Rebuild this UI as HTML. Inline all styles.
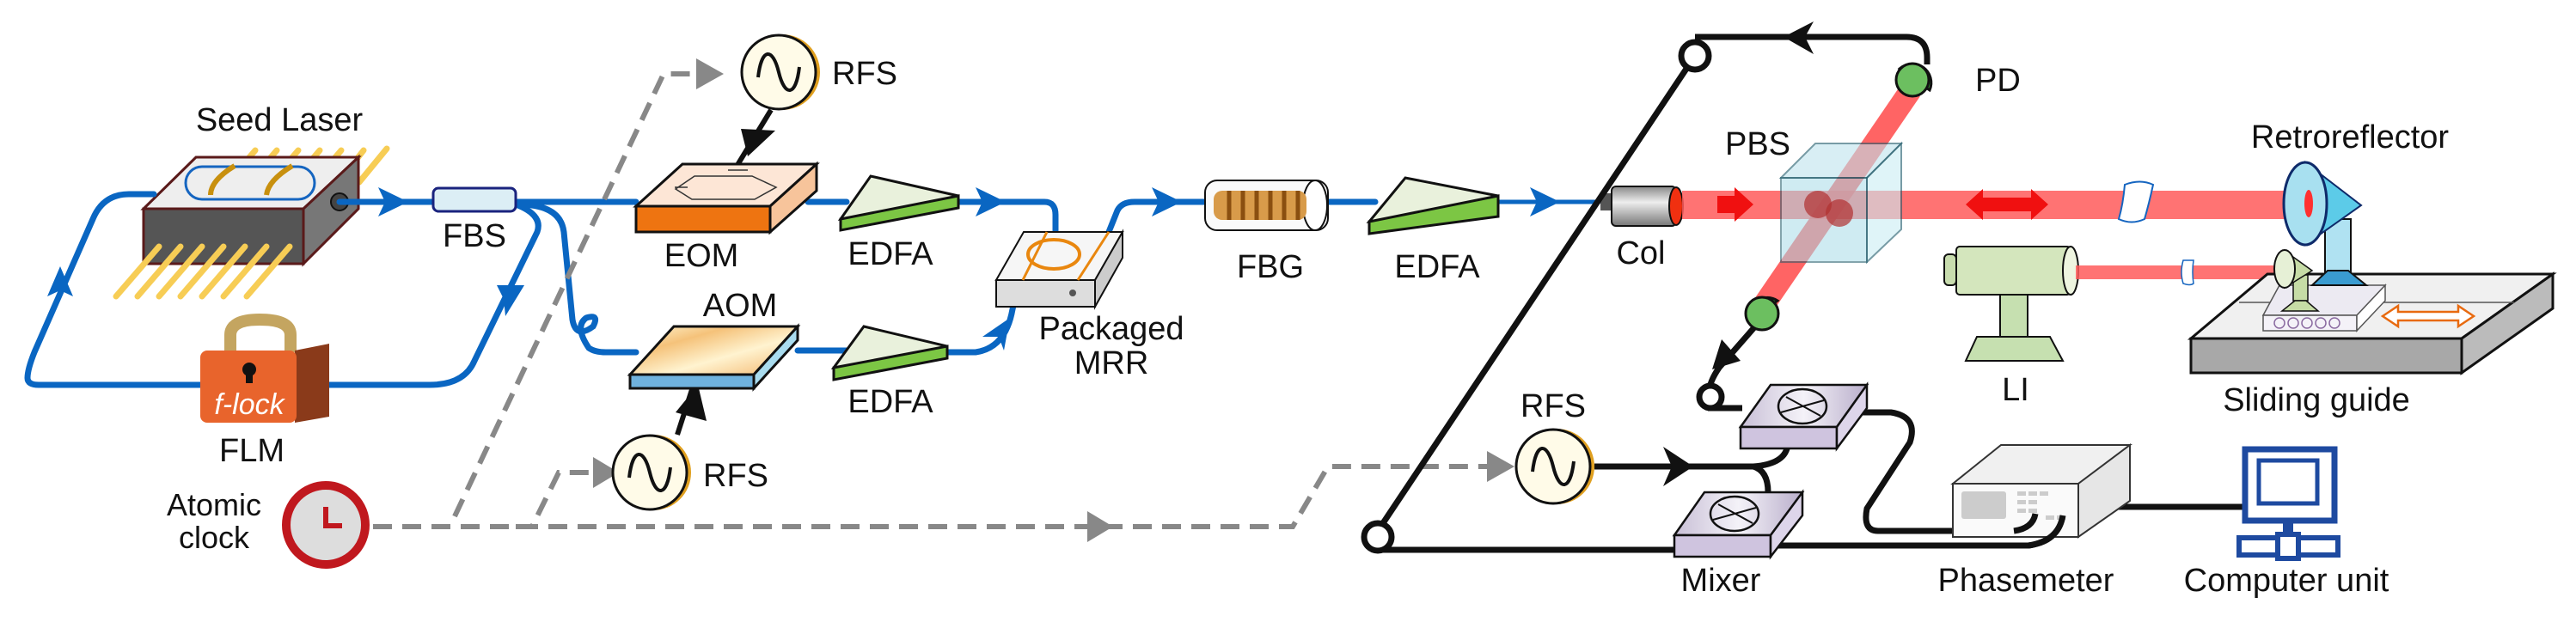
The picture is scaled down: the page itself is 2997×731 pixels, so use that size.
<!DOCTYPE html>
<html><head><meta charset="utf-8"><style>
html,body{margin:0;padding:0;background:#fff;}
svg{display:block;}
text{font-family:"Liberation Sans",Arial,sans-serif;fill:#111;}
</style></head><body>
<svg width="2997" height="731" viewBox="0 0 2997 731" xmlns="http://www.w3.org/2000/svg">
<defs>
<linearGradient id="metal" x1="0" y1="0" x2="0" y2="1"><stop offset="0" stop-color="#888"/><stop offset=".4" stop-color="#eee"/><stop offset="1" stop-color="#777"/></linearGradient>
<linearGradient id="aom" x1="0" y1="0" x2="1" y2="1"><stop offset="0" stop-color="#fff8d8"/><stop offset=".3" stop-color="#f5c27a"/><stop offset=".6" stop-color="#fff3d0"/><stop offset="1" stop-color="#f3b56a"/></linearGradient>
<linearGradient id="mix" x1="0" y1="0" x2="1" y2="0"><stop offset="0" stop-color="#c8bfd6"/><stop offset=".5" stop-color="#f4f2f8"/><stop offset="1" stop-color="#b9aecb"/></linearGradient>
</defs>

<g stroke="#f7cd55" stroke-width="7" stroke-linecap="round">
<line x1="297" y1="175" x2="280" y2="195"/><line x1="322" y1="175" x2="305" y2="195"/><line x1="347" y1="175" x2="330" y2="195"/><line x1="372" y1="175" x2="355" y2="195"/><line x1="397" y1="175" x2="380" y2="195"/><line x1="423" y1="175" x2="380" y2="230"/><line x1="450" y1="173" x2="418" y2="212"/>
</g>
<polygon points="167,243 228,183 417,183 353,243" fill="#eee" stroke="#5a1a1a" stroke-width="3"/>
<rect x="167" y="243" width="186" height="64" fill="#555" stroke="#5a1a1a" stroke-width="3"/>
<polygon points="353,243 417,183 417,243 353,307" fill="#777" stroke="#5a1a1a" stroke-width="3"/>
<rect x="216" y="194" width="150" height="38" rx="19" fill="none" stroke="#1565c0" stroke-width="3"/>
<path d="M273,193 Q245,210 245,227" stroke="#c8900e" stroke-width="6" fill="none"/>
<path d="M340,193 Q312,210 310,227" stroke="#c8900e" stroke-width="6" fill="none"/>
<circle cx="395" cy="235" r="10" fill="#444" stroke="#111" stroke-width="2"/>
<g stroke="#f7cd55" stroke-width="7" stroke-linecap="round">
<line x1="185" y1="287" x2="135" y2="345"/><line x1="210" y1="287" x2="160" y2="345"/><line x1="235" y1="287" x2="185" y2="345"/><line x1="260" y1="287" x2="210" y2="345"/><line x1="285" y1="287" x2="235" y2="345"/><line x1="310" y1="287" x2="260" y2="345"/><line x1="337" y1="287" x2="287" y2="345"/>
</g>
<text x="325" y="152" font-size="38" text-anchor="middle">Seed Laser</text>

<g stroke="#0a66c2" stroke-width="7" fill="none" stroke-linecap="round">
<path d="M395,235 L504,235"/>
<path d="M179,226 L150,226 Q120,226 108,255 L40,410 Q32,430 32,440 Q32,448 45,448 L233,448"/>
<path d="M380,448 L500,448 Q540,448 552,420 L625,270 Q632,250 600,238"/>
<path d="M600,235 L740,235"/>
<path d="M603,238 Q652,238 656,270 L666,372 Q670,395 690,380 Q698,365 682,370 Q668,380 685,405 Q692,410 705,410 L740,410"/>
<path d="M940,235 L985,235"/>
<path d="M928,408 L985,408"/>
<path d="M1115,235 L1215,235 Q1228,235 1228,250 L1228,270"/>
<path d="M1102,410 L1135,410 Q1170,405 1178,360 L1182,343"/>
<path d="M1290,270 L1300,245 Q1305,235 1320,235 L1402,235"/>
<path d="M1545,235 L1600,235"/>
<path d="M1743,235 L1860,235" stroke-width="5"/>
</g>
<g fill="#0a66c2">
<polygon points="440,218 475,235 440,252 448,235"/>
<polygon points="55,345 70,310 85,345 70,338"/>
<polygon points="578,332 610,332 588,368 586,348"/>
<polygon points="1135,218 1170,235 1135,252 1143,235"/>
<polygon points="1340,218 1375,235 1340,252 1348,235"/>
<polygon points="1780,218 1815,235 1780,252 1788,235"/>
<polygon points="1143,392 1175,370 1168,408 1162,392"/>
</g>
<rect x="504" y="219" width="96" height="27" rx="6" fill="#dceef5" stroke="#1a237e" stroke-width="3"/>
<text x="552" y="287" font-size="38" text-anchor="middle">FBS</text>

<path d="M268,410 L268,390 Q268,372 302,372 Q338,372 338,390 L338,410" stroke="#c4a560" stroke-width="14" fill="none"/>
<polygon points="343,408 383,400 383,485 343,492" fill="#8a3a1a"/>
<rect x="233" y="408" width="112" height="84" rx="8" fill="#e8642c"/>
<circle cx="290" cy="430" r="8" fill="#111"/><rect x="286" y="430" width="8" height="16" fill="#111"/>
<text x="290" y="482" font-size="34" text-anchor="middle" style="fill:#fff" font-style="italic">f-lock</text>
<text x="293" y="537" font-size="38" text-anchor="middle">FLM</text>

<text x="249" y="600" font-size="36" text-anchor="middle">Atomic</text>
<text x="249" y="638" font-size="36" text-anchor="middle">clock</text>
<circle cx="379" cy="611" r="46" fill="#ddd" stroke="#c0181e" stroke-width="10"/>
<path d="M379,590 L379,612 L398,612" stroke="#c0181e" stroke-width="6" fill="none"/>

<g stroke="#888" stroke-width="6" fill="none" stroke-dasharray="22,12">
<path d="M434,613 L1504,613 L1545,543 L1740,543"/>
<path d="M600,613 L619,613 L650,550 L708,550"/>
<path d="M529,601 L772,86 L835,86"/>
</g>
<g fill="#888">
<polygon points="1265,595 1295,613 1265,631"/>
<polygon points="1730,525 1762,543 1730,561"/>
<polygon points="690,532 720,550 690,568"/>
<polygon points="810,68 842,86 810,104"/>
</g>

<g stroke="#111" stroke-width="3">
<circle cx="910" cy="84" r="44" fill="#e0a020" stroke="none"/><circle cx="906" cy="84" r="43" fill="#fffbe8"/>
<circle cx="760" cy="550" r="44" fill="#e0a020" stroke="none"/><circle cx="756" cy="550" r="43" fill="#fffbe8"/>
<circle cx="1811" cy="543" r="44" fill="#e0a020" stroke="none"/><circle cx="1807" cy="543" r="43" fill="#fffbe8"/>
</g>
<g stroke="#111" stroke-width="4" fill="none">
<path d="M882,90 C886,55 899,55 906,84 C913,113 926,113 930,78"/>
<path d="M732,556 C736,521 749,521 756,550 C763,579 776,579 780,544"/>
<path d="M1783,549 C1787,514 1800,514 1807,543 C1814,572 1827,572 1831,537"/>
</g>
<text x="968" y="98" font-size="38">RFS</text>
<text x="818" y="566" font-size="38">RFS</text>
<text x="1807" y="485" font-size="38" text-anchor="middle">RFS</text>
<g stroke="#111" stroke-width="6"><line x1="897" y1="128" x2="858" y2="192"/><line x1="788" y1="506" x2="810" y2="438"/></g>
<polygon points="862,150 902,152 870,182" fill="#111"/>
<polygon points="786,480 812,448 822,490" fill="#111"/>

<polygon points="740,240 794,191 950,191 896,240" fill="#fde6d6" stroke="#111" stroke-width="3"/>
<rect x="740" y="240" width="156" height="30" fill="#ee7411" stroke="#111" stroke-width="3"/>
<polygon points="896,240 950,191 950,222 896,270" fill="#f7c49b" stroke="#111" stroke-width="3"/>
<path d="M786,220 L808,205 L875,205 L903,218 L878,232 L805,232z M847,198 L870,198 M785,218 L800,218" stroke="#333" stroke-width="1.5" fill="none"/>
<text x="816" y="310" font-size="38" text-anchor="middle">EOM</text>
<polygon points="733,436 784,380 928,380 877,436" fill="url(#aom)" stroke="#111" stroke-width="3"/>
<rect x="733" y="436" width="144" height="16" fill="#6fb2de" stroke="#111" stroke-width="3"/>
<polygon points="877,436 928,380 928,396 877,452" fill="#a9dcef" stroke="#111" stroke-width="3"/>
<text x="861" y="368" font-size="38" text-anchor="middle">AOM</text>

<g stroke="#111" stroke-width="3">
<polygon points="978,255 1013,205 1115,228 1115,240" fill="#e9f1dc"/>
<polygon points="978,255 1115,228 1115,242 978,268" fill="#7cc644"/>
<polygon points="970,428 1005,380 1102,403 1102,415" fill="#e9f1dc"/>
<polygon points="970,428 1102,403 1102,417 970,442" fill="#7cc644"/>
<polygon points="1593,258 1635,207 1743,228 1743,240" fill="#e9f1dc"/>
<polygon points="1593,258 1743,228 1743,252 1593,272" fill="#7cc644"/>
</g>
<text x="1036" y="308" font-size="38" text-anchor="middle">EDFA</text>
<text x="1036" y="480" font-size="38" text-anchor="middle">EDFA</text>
<text x="1672" y="323" font-size="38" text-anchor="middle">EDFA</text>

<polygon points="1159,326 1191,270 1306,270 1274,326" fill="#f6f6f6" stroke="#111" stroke-width="2"/>
<rect x="1159" y="326" width="115" height="31" fill="#ddd" stroke="#111" stroke-width="2"/>
<polygon points="1274,326 1306,270 1306,300 1274,357" fill="#ccc" stroke="#111" stroke-width="2"/>
<ellipse cx="1226" cy="296" rx="30" ry="17" fill="none" stroke="#e9870f" stroke-width="4"/>
<line x1="1218" y1="270" x2="1190" y2="326" stroke="#e9870f" stroke-width="3"/>
<line x1="1290" y1="270" x2="1254" y2="326" stroke="#e9870f" stroke-width="3"/>
<circle cx="1248" cy="341" r="4" fill="#555"/>
<text x="1293" y="395" font-size="38" text-anchor="middle">Packaged</text>
<text x="1293" y="435" font-size="38" text-anchor="middle">MRR</text>

<rect x="1402" y="210" width="143" height="58" rx="14" fill="#fafafa" stroke="#111" stroke-width="2"/>
<ellipse cx="1530" cy="239" rx="14" ry="29" fill="#fff" stroke="#111" stroke-width="2"/>
<rect x="1412" y="222" width="108" height="34" rx="10" fill="#d89b4a"/>
<g stroke="#8a4f10" stroke-width="5"><line x1="1430" y1="222" x2="1430" y2="256"/><line x1="1446" y1="222" x2="1446" y2="256"/><line x1="1462" y1="222" x2="1462" y2="256"/><line x1="1478" y1="222" x2="1478" y2="256"/><line x1="1494" y1="222" x2="1494" y2="256"/><line x1="1510" y1="222" x2="1510" y2="256"/></g>
<text x="1478" y="323" font-size="38" text-anchor="middle">FBG</text>

<rect x="1862" y="225" width="14" height="20" fill="#555"/>
<rect x="1875" y="217" width="75" height="46" rx="5" fill="url(#metal)" stroke="#111" stroke-width="2"/>
<ellipse cx="1950" cy="240" rx="8" ry="22" fill="#f03010" stroke="#111" stroke-width="2"/>
<text x="1909" y="307" font-size="38" text-anchor="middle">Col</text>

<g stroke="#111" stroke-width="7" fill="none">
<path d="M1603,618 L1972,65"/>
<path d="M1972,43 L2218,43 Q2242,43 2242,67 L2242,75"/>
<path d="M1603,640 L1950,640"/>
<path d="M1855,543 L2040,543 Q2078,540 2080,517"/>
<path d="M2040,543 Q2057,548 2057,573"/>
<path d="M2061,635 L2360,635 Q2395,630 2400,600"/>
<path d="M2162,480 L2200,480 Q2232,485 2222,515 L2172,592 Q2167,618 2185,618 L2343,618 Q2365,615 2368,598"/>
<path d="M2447,590 L2616,590"/>
<path d="M1987,475 L2027,475"/>
<path d="M2042,380 L2000,428 Q1985,450 1990,462"/>
</g>
<circle cx="1972" cy="65" r="16" fill="#fff" stroke="#111" stroke-width="7"/>
<circle cx="1603" cy="625" r="16" fill="#fff" stroke="#111" stroke-width="7"/>
<circle cx="1990" cy="462" r="13" fill="#fff" stroke="#111" stroke-width="7"/>
<polygon points="2110,25 2075,43 2110,63 2100,43" fill="#111"/>
<polygon points="1935,520 1970,543 1935,566 1945,543" fill="#111"/>
<polygon points="1992,430 2003,395 2025,420" fill="#111"/>

<rect x="1957" y="222" width="730" height="33" fill="#ff5a5a" opacity=".85"/>
<line x1="2223" y1="105" x2="2052" y2="355" stroke="#ff4a4a" stroke-width="26" opacity=".85"/>
<polygon points="1998,228 2018,228 2018,218 2040,238 2018,258 2018,248 1998,248" fill="#f01010"/>
<polygon points="2287,238 2307,220 2307,230 2363,230 2363,220 2383,238 2363,256 2363,246 2307,246 2307,256" fill="#f01010"/>
<path d="M2472,215 Q2470,238 2465,255 Q2480,262 2495,255 Q2500,238 2505,215 Q2490,208 2472,215z" fill="#fff" stroke="#1565c0" stroke-width="2"/>
<polygon points="2072,207 2112,167 2212,167 2172,207" fill="#bfe4ee" opacity=".6" stroke="#1e5a6a" stroke-width="2"/>
<rect x="2072" y="207" width="100" height="98" fill="#a8dbe8" opacity=".55" stroke="#1e5a6a" stroke-width="2"/>
<polygon points="2172,207 2212,167 2212,267 2172,305" fill="#cbeef5" opacity=".6" stroke="#1e5a6a" stroke-width="2"/>
<circle cx="2115" cy="238" r="16" fill="#b03030" opacity=".7"/><circle cx="2140" cy="248" r="16" fill="#b03030" opacity=".7"/>
<text x="2045" y="180" font-size="38" text-anchor="middle">PBS</text>
<path d="M2210,80 A22,22 0 0 1 2245,105 z" fill="#3aa83a" stroke="#111" stroke-width="3"/>
<path d="M2035,375 A22,22 0 0 1 2068,350 z" fill="#3aa83a" stroke="#111" stroke-width="3"/>
<circle cx="2225" cy="93" r="19" fill="#6cbf60" stroke="#111" stroke-width="3"/>
<circle cx="2050" cy="365" r="19" fill="#6cbf60" stroke="#111" stroke-width="3"/>
<text x="2298" y="106" font-size="38">PD</text>

<rect x="2262" y="296" width="14" height="36" rx="5" fill="#c8dcae" stroke="#111" stroke-width="2"/>
<rect x="2276" y="287" width="133" height="56" rx="4" fill="#d4e6bd" stroke="#111" stroke-width="2"/>
<ellipse cx="2409" cy="315" rx="9" ry="28" fill="#eef5e0" stroke="#111" stroke-width="2"/>
<rect x="2327" y="343" width="32" height="50" fill="#c6e0b0" stroke="#111" stroke-width="2"/>
<polygon points="2300,392 2385,392 2400,420 2287,420" fill="#c6e0b0" stroke="#111" stroke-width="2"/>
<text x="2345" y="466" font-size="38" text-anchor="middle">LI</text>
<rect x="2415" y="309" width="245" height="16" fill="#ff5a5a" opacity=".85"/>
<path d="M2540,303 Q2536,317 2540,330 Q2548,333 2552,330 Q2550,317 2552,303z" fill="#fff" stroke="#1565c0" stroke-width="1.5"/>

<polygon points="2549,394 2638,319 2970,319 2864,394" fill="#f0f0f0" stroke="#111" stroke-width="3"/>
<rect x="2549" y="394" width="315" height="40" fill="#a8a8a8" stroke="#111" stroke-width="3"/>
<polygon points="2864,394 2970,319 2970,359 2864,434" fill="#bbb" stroke="#111" stroke-width="3"/>
<line x1="2605" y1="352" x2="2925" y2="352" stroke="#555" stroke-width="1.5"/>
<polygon points="2633,367 2652,332 2775,332 2742,367" fill="#eceaf2" stroke="#555" stroke-width="1.5"/>
<rect x="2633" y="367" width="109" height="18" fill="#f4f2f8" stroke="#555" stroke-width="1.5"/>
<polygon points="2742,367 2775,332 2775,350 2742,385" fill="#fff" stroke="#555" stroke-width="1.5"/>
<g fill="none" stroke="#8a6aa0" stroke-width="1.5"><circle cx="2652" cy="376" r="6"/><circle cx="2668" cy="376" r="6"/><circle cx="2684" cy="376" r="6"/><circle cx="2700" cy="376" r="6"/><circle cx="2716" cy="376" r="6"/></g>
<polygon points="2772,368 2790,356 2790,363 2860,363 2860,356 2878,368 2860,380 2860,373 2790,373 2790,380" fill="#fff" stroke="#e86a10" stroke-width="2.5"/>
<rect x="2705" y="255" width="30" height="62" fill="#b0e2f2" stroke="#111" stroke-width="2"/>
<polygon points="2708,315 2732,315 2753,332 2690,332" fill="#3a9bd0" stroke="#111" stroke-width="2"/>
<polygon points="2682,189 2747,239 2682,285" fill="#5ccbe8" stroke="#0e2a6a" stroke-width="2"/>
<ellipse cx="2682" cy="237" rx="25" ry="48" fill="#a8e0f0" stroke="#0e2a6a" stroke-width="3"/>
<ellipse cx="2686" cy="237" rx="5" ry="16" fill="#ff3030"/>
<rect x="2668" y="320" width="17" height="30" fill="#c6dca6" stroke="#111" stroke-width="1.5"/>
<polygon points="2670,350 2683,350 2697,362 2655,362" fill="#c6dca6" stroke="#111" stroke-width="1.5"/>
<polygon points="2658,292 2690,315 2658,335" fill="#c6dca6" stroke="#111" stroke-width="1.5"/>
<ellipse cx="2658" cy="313" rx="12" ry="22" fill="#e6f0d6" stroke="#111" stroke-width="2"/>
<text x="2734" y="172" font-size="38" text-anchor="middle">Retroreflector</text>
<text x="2695" y="478" font-size="38" text-anchor="middle">Sliding guide</text>

<polygon points="2025,497 2060,448 2172,448 2137,497" fill="url(#mix)" stroke="#111" stroke-width="2.5"/>
<rect x="2025" y="497" width="112" height="25" fill="#cfc4df" stroke="#111" stroke-width="2.5"/>
<polygon points="2137,497 2172,448 2172,475 2137,522" fill="#ddd5ea" stroke="#111" stroke-width="2.5"/>
<ellipse cx="2097" cy="473" rx="28" ry="20" fill="none" stroke="#111" stroke-width="2.5"/>
<path d="M2078,462 L2118,484 M2072,480 L2122,466" stroke="#111" stroke-width="2"/>
<polygon points="1948,623 1983,573 2097,573 2060,623" fill="url(#mix)" stroke="#111" stroke-width="2.5"/>
<rect x="1948" y="623" width="112" height="25" fill="#cfc4df" stroke="#111" stroke-width="2.5"/>
<polygon points="2060,623 2097,573 2097,600 2060,648" fill="#ddd5ea" stroke="#111" stroke-width="2.5"/>
<ellipse cx="2018" cy="598" rx="28" ry="20" fill="none" stroke="#111" stroke-width="2.5"/>
<path d="M1999,587 L2039,609 M1993,605 L2043,591" stroke="#111" stroke-width="2"/>
<text x="2002" y="688" font-size="38" text-anchor="middle">Mixer</text>

<polygon points="2272,563 2328,518 2478,518 2418,563" fill="#f0f0f0" stroke="#333" stroke-width="2"/>
<rect x="2272" y="563" width="146" height="62" fill="#fafafa" stroke="#333" stroke-width="2"/>
<polygon points="2418,563 2478,518 2478,583 2418,625" fill="#e6e6e6" stroke="#333" stroke-width="2"/>
<rect x="2282" y="572" width="52" height="32" rx="3" fill="#ccc"/>
<g fill="#ccc"><rect x="2347" y="572" width="10" height="5"/><rect x="2360" y="572" width="10" height="5"/><rect x="2373" y="572" width="10" height="5"/><rect x="2347" y="582" width="10" height="5"/><rect x="2360" y="582" width="10" height="5"/><rect x="2347" y="592" width="10" height="5"/><rect x="2360" y="592" width="10" height="5"/><rect x="2380" y="600" width="10" height="5"/><rect x="2393" y="600" width="10" height="5"/></g>
<path d="M2343,618 Q2365,615 2368,598" stroke="#111" stroke-width="7" fill="none"/>
<path d="M2360,635 Q2395,630 2400,600" stroke="#111" stroke-width="7" fill="none"/>
<text x="2357" y="688" font-size="38" text-anchor="middle">Phasemeter</text>

<rect x="2612" y="523" width="104" height="83" fill="#fff" stroke="#1e4aa0" stroke-width="7"/>
<rect x="2628" y="536" width="68" height="50" fill="#fff" stroke="#1e4aa0" stroke-width="5"/>
<rect x="2656" y="606" width="12" height="16" fill="#1e4aa0"/>
<rect x="2605" y="626" width="115" height="20" fill="#fff" stroke="#1e4aa0" stroke-width="6"/>
<rect x="2650" y="622" width="24" height="28" fill="#fff" stroke="#1e4aa0" stroke-width="6"/>
<text x="2660" y="688" font-size="38" text-anchor="middle">Computer unit</text>
</svg>
</body></html>
